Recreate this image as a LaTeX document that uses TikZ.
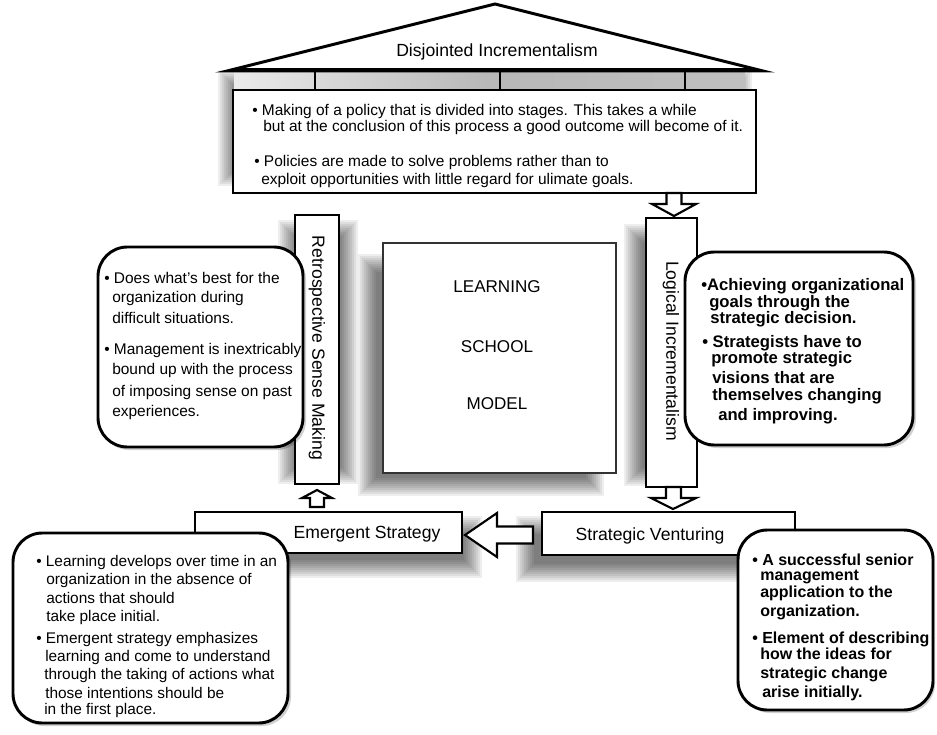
\documentclass[tikz,border=0pt]{standalone}
\usepackage{fontspec}
\setmainfont{Liberation Sans}
\newcommand{\softshade}[5]{%
  \foreach \k in {0,...,9}{%
    \fill[black,opacity=0.065,rounded corners=#5] ({#1+2*\k},{#2+2*\k}) rectangle ({#3-2*\k},{#4-2*\k});
  }}
\tikzset{
  thick box/.style={draw=black,line width=2.1pt,fill=white},
  rbox/.style={draw=black,line width=2.2pt,fill=white,rounded corners=22pt},
  rshadow/.style={fill=black,opacity=0.18,rounded corners=22pt},
  blockarrow/.style={draw=black,line width=1.6pt,fill=white,line join=miter},
  lbl/.style={font=\fontsize{13.2}{15}\selectfont,inner sep=0pt},
  sq/.style={font=\fontsize{12.8}{15}\selectfont,inner sep=0pt},
  tb/.style={font=\fontsize{11.6}{13}\selectfont,anchor=base west,inner sep=0pt},
  lt/.style={font=\fontsize{11.6}{14}\selectfont,anchor=base west,inner sep=0pt},
  rt/.style={font=\bfseries\fontsize{12.5}{14}\selectfont,anchor=base west,inner sep=0pt},
  brt/.style={font=\bfseries\fontsize{12}{14}\selectfont,anchor=base west,inner sep=0pt},
  blt/.style={font=\fontsize{11.55}{13}\selectfont,anchor=base west,inner sep=0pt},
}
\begin{document}
\begin{tikzpicture}[x=0.75pt,y=-0.75pt]
\useasboundingbox (0,0) rectangle (937,734);
\fill[white] (0,0) rectangle (937,734);

% ---- shadows
\softshade{218}{70}{752}{186}{0pt}
\fill[left color=black!8,right color=black!25,middle color=black!28] (234,72) rectangle (745,90);
\softshade{278}{220}{358}{484}{0pt}
\softshade{358}{254}{604}{496}{0pt}
\softshade{624}{224}{684}{486}{0pt}
\softshade{198}{516}{482}{578}{0pt}
\softshade{516}{516}{796}{582}{0pt}

% ---- roof
\draw[line width=2.2pt,fill=white,line join=miter] (227,71) -- (495,4) -- (763,71) -- cycle;
\draw[line width=3pt] (232,70.5) -- (758,70.5);
\node[lbl] (roof) at (497,52) {Disjointed Incrementalism};
\foreach \px in {315,500,685}{\draw[line width=1.6pt] (\px,71) -- (\px,90);}

% ---- top box
\draw[thick box] (233,90) rectangle (756,193);
\node[tb] (t1) at (252,116) {\textbullet\ Making of a policy that is divided into stages. This takes a while};
\node[tb] (t2) at (263,132) {but at the conclusion of this process a good outcome will become of it.};
\node[tb] (t3) at (254,167) {\textbullet\ Policies are made to solve problems rather than to};
\node[tb] (t4) at (261,185) {exploit opportunities with little regard for ulimate goals.};

% ---- down arrow top -> logical
\draw[blockarrow] (666.5,193) -- (681.5,193) -- (681.5,204) -- (696,204) -- (674,216) -- (652,204) -- (666.5,204) -- cycle;

% ---- retrospective strip
\draw[thick box] (295,215) rectangle (339,484);
\node[lbl,rotate=-90] (retro) at (317,348) {Retrospective Sense Making};

% ---- logical strip
\draw[thick box] (646,218) rectangle (697,487);
\node[lbl,rotate=-90] (logic) at (671,351) {Logical Incrementalism};

% ---- down arrow logical -> venturing
\draw[blockarrow] (666,487) -- (681,487) -- (681,498) -- (696,498) -- (673,509) -- (651,498) -- (666,498) -- cycle;

% ---- center square
\draw[draw=black!80,line width=0.8pt,fill=white] (383,243) rectangle (616,473);
\node[sq] (learn) at (497,287) {LEARNING};
\node[sq] (school) at (497,347) {SCHOOL};
\node[sq] (model) at (497,404) {MODEL};

% ---- left rounded box
\fill[rshadow] (100,250) rectangle (306,450);
\draw[rbox] (98,247) rectangle (303,447);
\node[lt] (l1) at (104,283) {\textbullet\ Does what’s best for the};
\node[lt] (l2) at (112,302) {organization during};
\node[lt] (l3) at (112,323) {difficult situations.};
\node[lt] (l4) at (104,354) {\textbullet\ Management is inextricably};
\node[lt] (l5) at (112,374) {bound up with the process};
\node[lt] (l6) at (112,396) {of imposing sense on past};
\node[lt] (l7) at (112,416) {experiences.};

% ---- right rounded box
\fill[rshadow] (688,255) rectangle (916,448);
\draw[rbox] (685,252) rectangle (913,445);
\node[rt] (r1) at (701,290) {\textbullet Achieving organizational};
\node[rt] (r2) at (709,307) {goals through the};
\node[rt] (r3) at (710,323) {strategic decision.};
\node[rt] (r4) at (702,347) {\textbullet\ Strategists have to};
\node[rt] (r5) at (711,363) {promote strategic};
\node[rt] (r6) at (712,383) {visions that are};
\node[rt] (r7) at (712,400) {themselves changing};
\node[rt] (r8) at (718,420) {and improving.};

% ---- up arrow under retrospective
\draw[blockarrow] (310,507) -- (324,507) -- (324,498) -- (332,498) -- (317,490) -- (302,498) -- (310,498) -- cycle;

% ---- emergent strategy box
\draw[thick box] (195,512) rectangle (462,553);
\node[lbl] (emerg) at (367,534) {Emergent Strategy};

% ---- strategic venturing box
\draw[thick box] (542,512) rectangle (795,555);
\node[lbl] (vent) at (650,536) {Strategic Venturing};

% ---- left arrow venturing -> emergent
\draw[blockarrow] (533,526.5) -- (497,526.5) -- (497,513) -- (465,535) -- (497,557) -- (497,543.5) -- (533,543.5) -- cycle;

% ---- bottom-left rounded box
\fill[rshadow] (15,536) rectangle (291,726);
\draw[rbox] (13,533) rectangle (288,723);
\node[blt] (b1) at (36,566) {\textbullet\ Learning develops over time in an};
\node[blt] (b2) at (46,584) {organization in the absence of};
\node[blt] (b3) at (46,603) {actions that should};
\node[blt] (b4) at (46,621) {take place initial.};
\node[blt] (b5) at (36,643) {\textbullet\ Emergent strategy emphasizes};
\node[blt] (b6) at (45,661) {learning and come to understand};
\node[blt] (b7) at (44,679) {through the taking of actions what};
\node[blt] (b8) at (45,698) {those intentions should be};
\node[blt] (b9) at (44,714) {in the first place.};

% ---- bottom-right rounded box
\fill[rshadow] (741,533) rectangle (935,713);
\draw[rbox] (738,530) rectangle (933,710);
\node[brt] (c1) at (752,565) {\textbullet\ A successful senior};
\node[brt] (c2) at (760,580) {management};
\node[brt] (c3) at (760,597) {application to the};
\node[brt] (c4) at (760,616) {organization.};
\node[brt] (c5) at (752,643) {\textbullet\ Element of describing};
\node[brt] (c6) at (760,659) {how the ideas for};
\node[brt] (c7) at (760,678) {strategic change};
\node[brt] (c8) at (762,697) {arise initially.};
\end{tikzpicture}
\end{document}
